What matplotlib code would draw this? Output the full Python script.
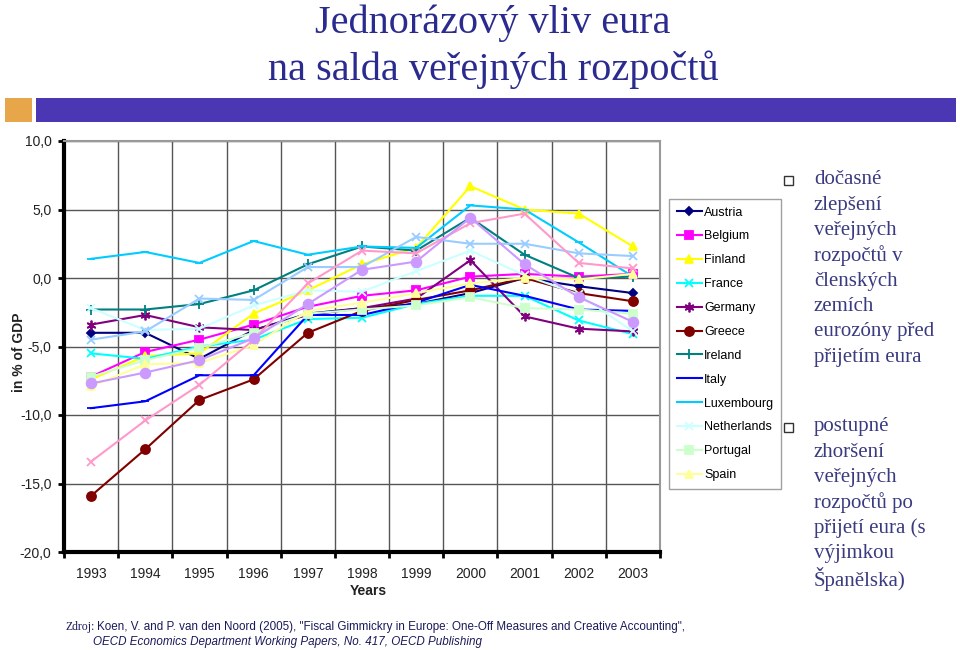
import matplotlib
matplotlib.use("Agg")
import matplotlib.pyplot as plt
from matplotlib.patches import Rectangle
import numpy as np

years = ["1993", "1994", "1995", "1996", "1997", "1998", "1999", "2000", "2001", "2002", "2003"]

austria     = [-4.0, -4.0, -5.9, -3.8, -2.6, -2.2, -1.9, -1.1, 0.0, -0.6, -1.1]
belgium     = [-7.2, -5.4, -4.5, -3.4, -2.1, -1.3, -0.9, 0.1, 0.3, 0.1, 0.3]
finland     = [-7.4, -5.7, -5.5, -2.6, -0.9, 1.0, 2.2, 6.7, 5.0, 4.7, 2.3]
france      = [-5.5, -5.9, -5.0, -4.5, -3.0, -2.9, -1.9, -1.3, -1.3, -3.1, -4.1]
germany     = [-3.4, -2.7, -3.6, -3.8, -2.7, -2.2, -1.5, 1.3, -2.8, -3.7, -3.9]
greece      = [-15.9, -12.5, -8.9, -7.4, -4.0, -2.4, -1.6, -0.9, 0.0, -1.1, -1.7]
ireland     = [-2.3, -2.3, -1.9, -0.9, 1.0, 2.3, 2.0, 4.4, 1.7, 0.0, 0.1]
italy       = [-9.5, -9.0, -7.1, -7.1, -2.7, -2.7, -1.8, -0.5, -1.3, -2.3, -2.4]
luxembourg  = [1.4, 1.9, 1.1, 2.7, 1.7, 2.3, 2.2, 5.3, 5.0, 2.6, 0.1]
netherlands = [-2.2, -3.8, -3.7, -2.0, -0.9, -1.0, 0.5, 2.0, 0.2, -1.2, -3.9]
portugal    = [-7.2, -6.0, -5.1, -4.0, -2.6, -2.3, -2.0, -1.4, -2.2, -2.3, -2.6]
spain       = [-7.9, -6.3, -6.2, -4.9, -2.4, -1.8, -1.1, -0.4, 0.0, -0.1, 0.3]
denmark     = [-4.5, -3.9, -1.5, -1.6, 0.8, 0.8, 3.0, 2.5, 2.5, 1.8, 1.6]
sweden      = [-13.4, -10.4, -7.8, -4.5, -0.4, 2.0, 1.8, 4.0, 4.7, 1.1, 0.7]
uk          = [-7.7, -6.9, -6.0, -4.4, -1.9, 0.6, 1.2, 4.4, 1.0, -1.4, -3.2]

legend_names = ["Austria", "Belgium", "Finland", "France", "Germany", "Greece",
                "Ireland", "Italy", "Luxembourg", "Netherlands", "Portugal", "Spain"]
extra_names = ["Denmark", "Sweden", "United Kingdom"]

yticks = [10, 5, 0, -5, -10, -15, -20]
ytick_labels = ["10,0", "5,0", "0,0", "-5,0", "-10,0", "-15,0", "-20,0"]

series = [austria, belgium, finland, france, germany, greece, ireland, italy,
          luxembourg, netherlands, portugal, spain, denmark, sweden, uk]
names = legend_names + extra_names
styles = [
    ("#000080", "D", 4.5),
    ("#FF00FF", "s", 6),
    ("#FFFF00", "^", 6),
    ("#00FFFF", "x", 6),
    ("#800080", (6, 2, 0), 7),
    ("#800000", "o", 6.5),
    ("#008080", "+", 7),
    ("#0000FF", "_", 6),
    ("#00CCFF", "_", 6),
    ("#CCFFFF", "x", 6),
    ("#CCFFCC", "s", 6),
    ("#FFFF99", "^", 6),
    ("#99CCFF", "x", 6),
    ("#FF99CC", "x", 6),
    ("#CC99FF", "o", 7),
]

fig = plt.figure(figsize=(9.6, 6.5), dpi=100)
fig.patch.set_facecolor("white")

ax = fig.add_axes([64/960, 1-552/650, 596/960, 411/650])
x = np.arange(len(years))
handles = []
for vals, name, (c, m, ms) in zip(series, names, styles):
    ln, = ax.plot(x, vals, color=c, marker=m, markersize=ms, linewidth=1.5,
                  markeredgecolor=c, markerfacecolor=c, markeredgewidth=1.3,
                  label=name)
    handles.append(ln)

ax.set_xlim(-0.5, len(years) - 0.5)
ax.set_ylim(-20, 10)
ax.set_yticks(yticks)
ax.set_yticklabels(ytick_labels, fontsize=10, family="Liberation Sans")
ax.set_xticks(x)
ax.set_xticklabels(years, fontsize=10, family="Liberation Sans")
ax.set_xticks(np.arange(-0.5, len(years), 1.0), minor=True)
ax.tick_params(axis="x", which="major", length=0, pad=11, colors="#222222")
ax.tick_params(axis="x", which="minor", length=4, width=2, color="black")
ax.tick_params(axis="y", which="major", length=4, width=2, color="black", pad=5, labelcolor="#222222")
ax.grid(True, axis="y", which="major", color="#555555", linewidth=1.0)
ax.grid(True, axis="x", which="minor", color="#555555", linewidth=1.0)
ax.set_axisbelow(True)
for s in ["top", "right"]:
    ax.spines[s].set_color("#999999")
    ax.spines[s].set_linewidth(1.5)
for s in ["left", "bottom"]:
    ax.spines[s].set_color("black")
    ax.spines[s].set_linewidth(3)
fig.text(19/960, 1-352/650, "in % of GDP", rotation=90, ha="center", va="center",
         fontsize=10, fontweight="bold", family="Liberation Sans", color="#222222")
fig.text(368/960, 1-591/650, "Years", ha="center", va="center",
         fontsize=10, fontweight="bold", family="Liberation Sans", color="#222222")

leg = fig.legend(handles=handles[:12], labels=legend_names, loc="upper left",
                 bbox_to_anchor=(669/960, 1-199/650), prop={"family": "Liberation Sans", "size": 9},
                 frameon=True, fancybox=False, edgecolor="#888888", handlelength=2.0,
                 labelspacing=0.95, borderpad=0.6, handletextpad=0.2, borderaxespad=0)
leg.get_frame().set_linewidth(1.0)

title_color = "#2B2B8F"
fig.text(493/960, 1-33/650, "Jednorázový vliv eura", ha="center", va="baseline",
         fontsize=29, family="Liberation Serif", color=title_color)
fig.text(493/960, 1-80/650, "na salda veřejných rozpočtů", ha="center", va="baseline",
         fontsize=29, family="Liberation Serif", color=title_color)
fig.patches.append(Rectangle((5/960, 1-122/650), 27/960, 24/650, transform=fig.transFigure,
                             facecolor="#E8A64A", edgecolor="none"))
fig.patches.append(Rectangle((36/960, 1-122/650), 920/960, 24/650, transform=fig.transFigure,
                             facecolor="#4B37B4", edgecolor="none"))

text_color = "#3A3A80"
bullet1 = ["dočasné", "zlepšení", "veřejných", "rozpočtů v", "členských", "zemích", "eurozóny před", "přijetím eura"]
bullet2 = ["postupné", "zhoršení", "veřejných", "rozpočtů po", "přijetí eura (s", "výjimkou", "Španělska)"]
for lines, y0 in [(bullet1, 180), (bullet2, 427)]:
    fig.patches.append(Rectangle((784/960, 1-(y0+5)/650), 9/960, 9/650, transform=fig.transFigure,
                                 facecolor="white", edgecolor="#333333", linewidth=1.0, zorder=5))
    for i, t in enumerate(lines):
        fig.text(814/960, 1-(y0 + i*25.3)/650, t, ha="left", va="center",
                 fontsize=15, family="Liberation Serif", color=text_color)

fig.text(65/960, 1-627/650, "Zdroj:", ha="left", va="center", fontsize=8.5,
         family="Liberation Serif", color="#1a1a5a")
fig.text(97/960, 1-627/650,
         "Koen, V. and P. van den Noord (2005), \"Fiscal Gimmickry in Europe: One-Off Measures and Creative Accounting\",",
         ha="left", va="center", fontsize=8.4, family="Liberation Sans", color="#1a1a5a")
fig.text(93/960, 1-642/650, "OECD Economics Department Working Papers, No. 417, OECD Publishing",
         ha="left", va="center", fontsize=8.4, family="Liberation Sans", style="italic", color="#1a1a5a")

fig.savefig("out.png", dpi=100)
